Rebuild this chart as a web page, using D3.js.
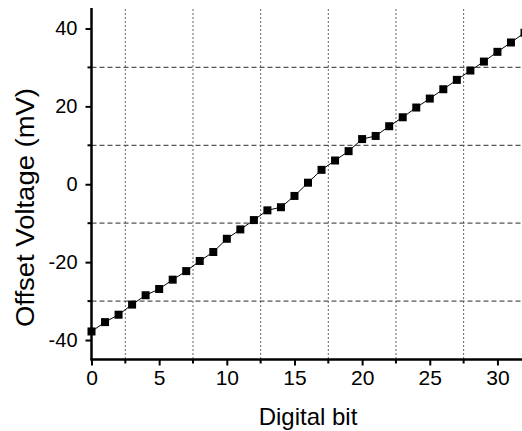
<html>
<head>
<meta charset="utf-8">
<script src="https://d3js.org/d3.v7.min.js"></script>
<style>
    body { margin: 0; background: #fff; }
    svg text { font-family: Arial, "Liberation Sans", sans-serif; fill: #000; }
</style>
</head>
<body>
<script>
    // values
    let bits = d3.range(0, 33);
    let offsets = [-37.8, -35.4, -33.5, -30.9, -28.5, -26.9, -24.5, -22.3, -19.7,
                   -17.4, -14.0, -11.6, -9.2, -6.7, -5.9, -3.0, 0.4,
                   3.7, 6.1, 8.5, 11.6, 12.4, 14.9, 17.2, 19.7,
                   22.0, 24.4, 26.8, 29.2, 31.5, 34.0, 36.4, 38.9];
    let xTicks = [0, 5, 10, 15, 20, 25, 30];
    let xMinor = [2.5, 7.5, 12.5, 17.5, 22.5, 27.5];
    let yTicks = [-40, -20, 0, 20, 40];
    let yMinor = [-30, -10, 10, 30];

    let width = 522, height = 431;
    let plot = {left: 91.5, right: 524.5, top: 9, bottom: 359.5};

    let svg = d3.select("body").append("svg")
        .attr("width", width)
        .attr("height", height);

    let x = d3.scaleLinear().domain([0, 32]).range([plot.left, plot.right]);
    let y = d3.scaleLinear().domain([-45, 45]).range([plot.bottom, plot.top]);

    // grid lines
    svg.append("g").selectAll("line").data(xMinor).enter().append("line")
        .attr("x1", d => x(d)).attr("x2", d => x(d))
        .attr("y1", plot.top).attr("y2", plot.bottom)
        .attr("stroke", "#666").attr("stroke-width", 1)
        .attr("stroke-dasharray", "2,2");
    svg.append("g").selectAll("line").data(yMinor).enter().append("line")
        .attr("x1", plot.left).attr("x2", width)
        .attr("y1", d => y(d)).attr("y2", d => y(d))
        .attr("stroke", "#555").attr("stroke-width", 1.2)
        .attr("stroke-dasharray", "5,3");

    // data
    let line = d3.line().x((d, i) => x(bits[i])).y(d => y(d));
    svg.append("path").datum(offsets)
        .attr("d", line)
        .attr("fill", "none")
        .attr("stroke", "#000")
        .attr("stroke-width", 1);
    svg.append("g").selectAll("rect").data(offsets).enter().append("rect")
        .attr("x", (d, i) => x(bits[i]) - 4)
        .attr("y", d => y(d) - 4)
        .attr("width", 8).attr("height", 8)
        .attr("fill", "#000");

    // axes
    let plain = d => String(d);
    let xAxis = svg.append("g").attr("transform", `translate(0,${plot.bottom})`)
        .call(d3.axisBottom(x).tickValues(xTicks).tickFormat(plain).tickSize(6).tickPadding(4.5));
    xAxis.selectAll(".tick text").style("font-size", "21px");
    xAxis.append("g").selectAll("line").data(xMinor).enter().append("line")
        .attr("x1", d => x(d)).attr("x2", d => x(d))
        .attr("y1", 0).attr("y2", 4)
        .attr("stroke", "#000").attr("stroke-width", 2);

    let yAxis = svg.append("g").attr("transform", `translate(${plot.left},0)`)
        .call(d3.axisLeft(y).tickValues(yTicks).tickFormat(plain).tickSize(6).tickPadding(8));
    yAxis.selectAll(".tick text").style("font-size", "20px");
    yAxis.append("g").selectAll("line").data(yMinor).enter().append("line")
        .attr("x1", -4).attr("x2", 0)
        .attr("y1", d => y(d)).attr("y2", d => y(d))
        .attr("stroke", "#000").attr("stroke-width", 2);

    svg.selectAll(".domain").remove();
    svg.selectAll(".tick line").attr("stroke-width", 2);
    svg.selectAll(".tick text")
        .attr("font-family", "Arial, 'Liberation Sans', sans-serif");

    svg.append("line")
        .attr("x1", plot.left).attr("x2", plot.left)
        .attr("y1", plot.top - 1).attr("y2", plot.bottom + 1)
        .attr("stroke", "#000").attr("stroke-width", 2.5);
    svg.append("line")
        .attr("x1", plot.left - 1).attr("x2", width)
        .attr("y1", plot.bottom).attr("y2", plot.bottom)
        .attr("stroke", "#000").attr("stroke-width", 2.5);

    // titles
    svg.append("text")
        .attr("x", 308).attr("y", 425)
        .attr("text-anchor", "middle")
        .style("font-size", "24px")
        .text("Digital bit");
    svg.append("text")
        .attr("transform", "translate(34,207.5) rotate(-90)")
        .attr("text-anchor", "middle")
        .attr("textLength", 239)
        .attr("lengthAdjust", "spacingAndGlyphs")
        .style("font-size", "25px")
        .text("Offset Voltage (mV)");
</script>
</body>
</html>
